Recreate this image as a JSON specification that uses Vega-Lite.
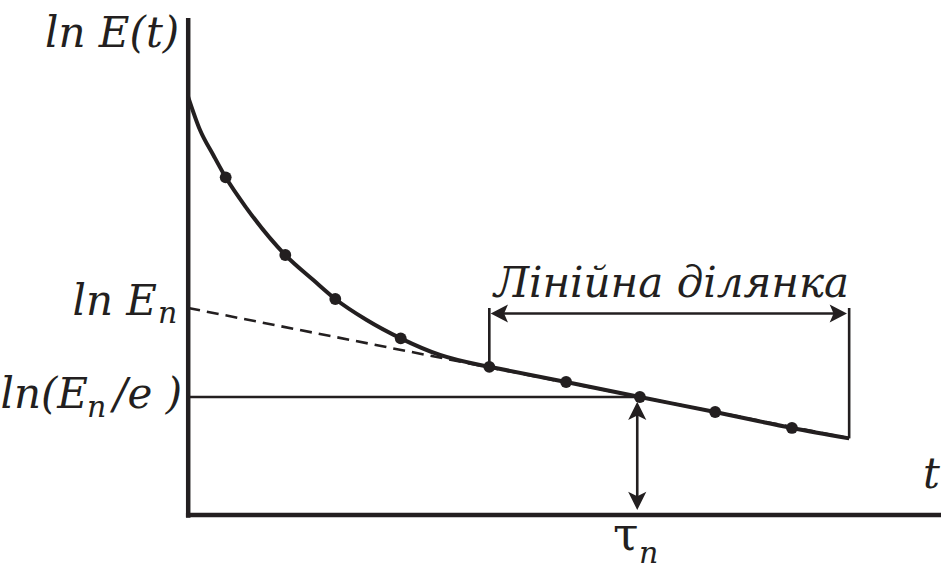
{
  "$schema": "https://vega.github.io/schema/vega-lite/v6.json",
  "width": 941,
  "height": 571,
  "padding": 0,
  "autosize": {"type": "none"},
  "background": "white",
  "config": {"view": {"stroke": null}, "text": {"font": "DejaVu Serif", "color": "#231f20", "baseline": "alphabetic"}},
  "datasets": {
    "curve": [
      {"t": 0.0, "lnE": 4.697, "kind": "curve"},
      {"t": 0.157, "lnE": 4.326, "kind": "curve"},
      {"t": 0.333, "lnE": 4.045, "kind": "curve"},
      {"t": 0.498, "lnE": 3.794, "kind": "point"},
      {"t": 0.777, "lnE": 3.446, "kind": "curve"},
      {"t": 1.29, "lnE": 2.921, "kind": "point"},
      {"t": 1.662, "lnE": 2.64, "kind": "curve"},
      {"t": 1.954, "lnE": 2.427, "kind": "point"},
      {"t": 2.371, "lnE": 2.191, "kind": "curve"},
      {"t": 2.823, "lnE": 1.985, "kind": "point"},
      {"t": 3.345, "lnE": 1.798, "kind": "curve"},
      {"t": 3.876, "lnE": 1.685, "kind": "curve"},
      {"t": 4.0, "lnE": 1.665, "kind": "point"},
      {"t": 5.02, "lnE": 1.494, "kind": "point"},
      {"t": 6.0, "lnE": 1.326, "kind": "point"},
      {"t": 7.0, "lnE": 1.157, "kind": "point"},
      {"t": 8.02, "lnE": 0.978, "kind": "point"},
      {"t": 8.78, "lnE": 0.861, "kind": "curve"}
    ],
    "asymptote": [
      {"t": 0.0, "lnE": 2.326},
      {"t": 8.78, "lnE": 0.862}
    ],
    "axes": [
      {"t": 0.0, "t2": 0.0, "v": -0.03, "v2": 5.584},
      {"t": -0.03, "t2": 10.0, "v": 0.0, "v2": 0.0}
    ],
    "guides": [
      {"t": 0.0, "t2": 6.0, "v": 1.326, "v2": 1.326},
      {"t": 4.0, "t2": 4.0, "v": 1.665, "v2": 2.326},
      {"t": 8.78, "t2": 8.78, "v": 0.861, "v2": 2.326},
      {"t": 4.1, "t2": 8.68, "v": 2.264, "v2": 2.264},
      {"t": 5.965, "t2": 5.965, "v": 0.12, "v2": 1.2}
    ],
    "arrowheads": [
      {"t": 5.965, "v": 1.273, "dir": "up"},
      {"t": 5.965, "v": 0.056, "dir": "down"},
      {"t": 4.018, "v": 2.264, "dir": "left"},
      {"t": 8.751, "v": 2.264, "dir": "right"}
    ],
    "labels": [
      {"t": -1.902, "v": 5.258, "text": "ln E(t)", "part": "left"},
      {"t": -0.415, "v": 2.247, "text": "ln E", "part": "right"},
      {"t": -0.401, "v": 2.154, "text": "n", "part": "sub"},
      {"t": -1.331, "v": 1.202, "text": "ln(E", "part": "right"},
      {"t": -1.344, "v": 1.104, "text": "n", "part": "sub"},
      {"t": -0.082, "v": 1.202, "text": "/e )", "part": "right"},
      {"t": 6.42, "v": 2.449, "text": "Лінійна ділянка", "part": "center"},
      {"t": 9.76, "v": 0.303, "text": "t", "part": "left"},
      {"t": 5.642, "v": -0.393, "text": "τ", "part": "greek"},
      {"t": 5.988, "v": -0.539, "text": "n", "part": "sub"}
    ]
  },
  "encoding": {
    "x": {"field": "t", "type": "quantitative", "scale": {"domain": [-2.5, 10.0], "nice": false, "zero": false}, "axis": null},
    "y": {"field": "lnE", "type": "quantitative", "scale": {"domain": [-0.6292, 5.7865], "nice": false, "zero": false}, "axis": null}
  },
  "layer": [
    {
      "data": {"name": "asymptote"},
      "mark": {"type": "line", "color": "#231f20", "strokeWidth": 2.6, "strokeDash": [12, 7]}
    },
    {
      "data": {"name": "axes"},
      "mark": {"type": "rule", "color": "#231f20", "strokeWidth": 4.5},
      "encoding": {
        "x": {"field": "t", "type": "quantitative"},
        "x2": {"field": "t2"},
        "y": {"field": "v", "type": "quantitative"},
        "y2": {"field": "v2"}
      }
    },
    {
      "data": {"name": "guides"},
      "mark": {"type": "rule", "color": "#231f20", "strokeWidth": 2.6},
      "encoding": {
        "x": {"field": "t", "type": "quantitative"},
        "x2": {"field": "t2"},
        "y": {"field": "v", "type": "quantitative"},
        "y2": {"field": "v2"}
      }
    },
    {
      "data": {"name": "curve"},
      "mark": {"type": "line", "color": "#231f20", "strokeWidth": 4, "interpolate": "monotone"}
    },
    {
      "data": {"name": "curve"},
      "transform": [{"filter": "datum.kind === 'point'"}],
      "mark": {"type": "point", "filled": true, "color": "#231f20", "opacity": 1, "size": 140}
    },
    {
      "data": {"name": "arrowheads"},
      "mark": {"type": "point", "filled": true, "color": "#231f20", "opacity": 1},
      "encoding": {
        "x": {"field": "t", "type": "quantitative"},
        "y": {"field": "v", "type": "quantitative"},
        "size": {"value": 300},
        "shape": {
          "field": "dir",
          "type": "nominal",
          "legend": null,
          "scale": {
            "domain": ["up", "down", "left", "right"],
            "range": [
              "M0,0 L1.05,2.1 L0,1.6 L-1.05,2.1 Z",
              "M0,0 L1.05,-2.1 L0,-1.6 L-1.05,-2.1 Z",
              "M0,0 L2,1.05 L1.55,0 L2,-1.05 Z",
              "M0,0 L-2,1.05 L-1.55,0 L-2,-1.05 Z"
            ]
          }
        }
      }
    },
    {
      "data": {"name": "labels"},
      "transform": [{"filter": "datum.part === 'left'"}],
      "mark": {"type": "text", "fontStyle": "italic", "fontSize": 42, "align": "left"},
      "encoding": {"x": {"field": "t", "type": "quantitative"}, "y": {"field": "v", "type": "quantitative"}, "text": {"field": "text"}}
    },
    {
      "data": {"name": "labels"},
      "transform": [{"filter": "datum.part === 'right'"}],
      "mark": {"type": "text", "fontStyle": "italic", "fontSize": 42, "align": "right"},
      "encoding": {"x": {"field": "t", "type": "quantitative"}, "y": {"field": "v", "type": "quantitative"}, "text": {"field": "text"}}
    },
    {
      "data": {"name": "labels"},
      "transform": [{"filter": "datum.part === 'center'"}],
      "mark": {"type": "text", "fontStyle": "italic", "fontSize": 42, "align": "center"},
      "encoding": {"x": {"field": "t", "type": "quantitative"}, "y": {"field": "v", "type": "quantitative"}, "text": {"field": "text"}}
    },
    {
      "data": {"name": "labels"},
      "transform": [{"filter": "datum.part === 'sub'"}],
      "mark": {"type": "text", "fontStyle": "italic", "fontSize": 30, "align": "left"},
      "encoding": {"x": {"field": "t", "type": "quantitative"}, "y": {"field": "v", "type": "quantitative"}, "text": {"field": "text"}}
    },
    {
      "data": {"name": "labels"},
      "transform": [{"filter": "datum.part === 'greek'"}],
      "mark": {"type": "text", "fontSize": 46, "align": "left"},
      "encoding": {"x": {"field": "t", "type": "quantitative"}, "y": {"field": "v", "type": "quantitative"}, "text": {"field": "text"}}
    }
  ]
}
